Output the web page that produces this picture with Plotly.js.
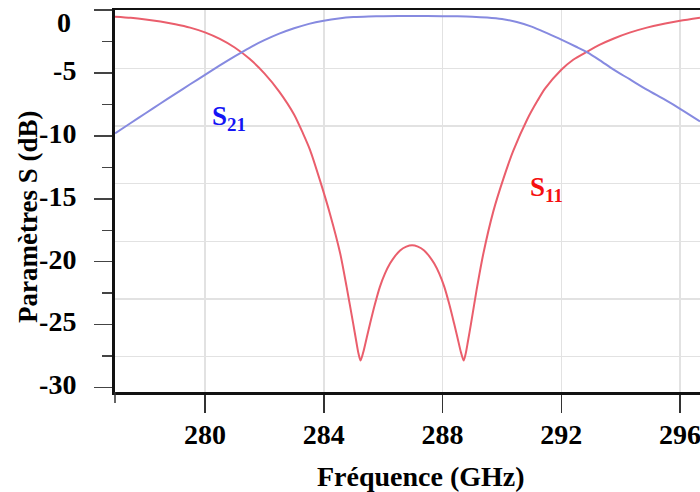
<!DOCTYPE html>
<html>
<head>
<meta charset="utf-8">
<script src="https://cdn.plot.ly/plotly-3.0.1.min.js"></script>
<style>html,body{margin:0;padding:0;background:#fff;}#chart{width:700px;height:492px;}</style>
</head>
<body>
<div id="chart"></div>
<script>
// S11 (red) – frequency in GHz, magnitude in dB
const freqS11 = [276.97, 277.5, 278.0, 278.5, 279.0, 279.5, 280.0, 280.5, 281.0, 281.5, 282.0, 282.5, 283.0, 283.3, 283.54, 283.87, 284.21, 284.55, 284.77, 284.99, 285.1, 285.17, 285.24, 285.33, 285.45, 285.56, 285.72, 285.89, 286.06, 286.23, 286.4, 286.57, 286.78, 286.975, 287.17, 287.38, 287.55, 287.72, 287.89, 288.06, 288.23, 288.39, 288.5, 288.62, 288.71, 288.78, 288.85, 288.96, 289.15, 289.37, 289.71, 290.05, 290.38, 290.85, 291.2, 291.45, 292.0, 292.4, 292.86, 293.3, 293.75, 294.3, 294.88, 295.5, 296.0, 296.67];
const s11 = [-0.53, -0.62, -0.75, -0.92, -1.13, -1.4, -1.78, -2.3, -2.98, -3.88, -5.03, -6.48, -8.3, -9.8, -11.13, -13.52, -16.2, -19.3, -22.0, -24.9, -26.4, -27.3, -27.85, -27.2, -26.0, -24.91, -23.4, -22.0, -20.95, -20.15, -19.55, -19.1, -18.8, -18.69, -18.8, -19.1, -19.55, -20.15, -20.95, -22.0, -23.4, -24.91, -26.0, -27.2, -27.85, -27.3, -26.4, -24.9, -22.2, -19.4, -16.0, -13.4, -11.2, -8.7, -7.2, -6.25, -4.75, -3.95, -3.32, -2.75, -2.28, -1.8, -1.4, -1.07, -0.86, -0.62];

// S21 (blue)
const freqS21 = [276.97, 277.5, 278.0, 278.5, 279.0, 279.5, 280.0, 280.5, 281.0, 281.5, 282.0, 282.5, 283.0, 283.5, 284.0, 284.5, 285.0, 285.5, 286.0, 287.0, 288.0, 288.5, 289.0, 289.5, 290.0, 290.5, 291.0, 291.5, 292.0, 292.5, 292.86, 293.3, 293.75, 294.3, 294.88, 295.5, 296.0, 296.67];
const s21 = [-9.8, -8.98, -8.2, -7.43, -6.66, -5.9, -5.15, -4.4, -3.68, -3.0, -2.4, -1.88, -1.45, -1.1, -0.85, -0.67, -0.56, -0.51, -0.49, -0.48, -0.49, -0.5, -0.53, -0.6, -0.72, -0.95, -1.32, -1.82, -2.35, -2.92, -3.35, -4.0, -4.72, -5.5, -6.33, -7.15, -7.85, -8.85];

// Axis ticks
const xTickVals = [280, 284, 288, 292, 296];
const xTickText = ['280', '284', '288', '292', '296'];
const yTickVals = [-30, -25, -20, -15, -10, -5, 0];
const yTickText = ['-30', '-25', '-20', '-15', '-10', '-5', '0'];

// Text labels
const xTitle = 'Fréquence (GHz)';
const yTitle = 'Paramètres S (dB)';
const labelS21 = 'S<sub>21</sub>';
const labelS11 = 'S<sub>11</sub>';

const FONT = 'Liberation Serif, Times New Roman, serif';
const GRID = '#e2e2e2';
const TICKFONT = {family: FONT, size: 28, color: '#000', weight: 700};

// the top "0" label is drawn slightly lowered in the reference, so it is placed as its own text
const yTickTextShown = yTickText.map((t, i) => yTickVals[i] === 0 ? '' : t);
const zeroLabel = yTickText[yTickVals.indexOf(0)];

const traces = [
  {x: [], y: [], xaxis: 'x', yaxis: 'y', showlegend: false, hoverinfo: 'skip', mode: 'lines'},
  {x: freqS11, y: s11, xaxis: 'x', yaxis: 'y2', mode: 'lines', name: 'S11',
   line: {color: 'rgb(234,94,108)', width: 2, shape: 'spline', smoothing: 0.7}},
  {x: freqS21, y: s21, xaxis: 'x', yaxis: 'y2', mode: 'lines', name: 'S21',
   line: {color: 'rgb(134,138,224)', width: 2, shape: 'spline', smoothing: 0.7}}
];

const layout = {
  width: 700, height: 492,
  margin: {l: 115, r: 0, t: 10, b: 100, pad: 0},
  paper_bgcolor: '#fff', plot_bgcolor: '#fff',
  showlegend: false,
  font: {family: FONT, size: 27, color: '#000', weight: 700},
  xaxis: {
    range: [276.97, 296.67],
    tickvals: xTickVals, ticktext: xTickText,
    ticks: 'outside', ticklen: 18, tickwidth: 1.5, tickcolor: '#333',
    ticklabelstandoff: -2, ticklabeloverflow: 'allow',
    tickfont: TICKFONT,
    showgrid: true, gridcolor: GRID, gridwidth: 1.5,
    showline: true, linecolor: '#111', linewidth: 2.5, mirror: true,
    zeroline: false, fixedrange: true
  },
  yaxis: {
    range: [-33.06, 0.054], tick0: 0, dtick: 5,
    showgrid: true, gridcolor: GRID, gridwidth: 1.5,
    showticklabels: false, ticks: '', showline: false, zeroline: false, fixedrange: true
  },
  yaxis2: {
    overlaying: 'y', side: 'left', anchor: 'x',
    range: [-30.35, 0],
    tickvals: yTickVals, ticktext: yTickTextShown,
    ticks: 'outside', ticklen: 18, tickwidth: 1.5, tickcolor: '#444',
    ticklabelstandoff: 12, ticklabelshift: -3, ticklabeloverflow: 'allow',
    tickfont: TICKFONT,
    minor: {tick0: 0, dtick: 2.5, ticks: 'outside', ticklen: 10, tickwidth: 1.5, tickcolor: '#444', showgrid: false},
    showgrid: false, zeroline: false,
    showline: true, linecolor: '#111', linewidth: 3, fixedrange: true
  },
  shapes: [
    {type: 'line', xref: 'paper', yref: 'paper', x0: 0, x1: 0, y0: 0, y1: -0.029,
     line: {color: '#333', width: 1.5}}
  ],
  annotations: [
    {text: zeroLabel, xref: 'paper', yref: 'paper', x: (73 - 115) / 585, y: (392 - 22) / 382,
     showarrow: false, xanchor: 'right', yanchor: 'middle', font: TICKFONT},
    {text: xTitle, xref: 'paper', yref: 'paper', x: (421 - 115) / 585, y: -(476 - 392) / 382,
     showarrow: false, xanchor: 'center', yanchor: 'middle',
     font: {family: FONT, size: 28, color: '#000', weight: 700}},
    {text: yTitle, xref: 'paper', yref: 'paper', x: (28 - 115) / 585, y: (392 - 217) / 382,
     showarrow: false, xanchor: 'center', yanchor: 'middle', textangle: -90,
     font: {family: FONT, size: 27, color: '#000', weight: 700}},
    {text: labelS21, xref: 'x', yref: 'y2', x: 280.81, y: -8.6, showarrow: false,
     xanchor: 'center', yanchor: 'middle',
     font: {family: FONT, size: 27, color: '#1414f5', weight: 700}},
    {text: labelS11, xref: 'x', yref: 'y2', x: 291.5, y: -14.2, showarrow: false,
     xanchor: 'center', yanchor: 'middle',
     font: {family: FONT, size: 27, color: '#f50f0f', weight: 700}}
  ]
};

Plotly.newPlot('chart', traces, layout, {displayModeBar: false, staticPlot: true});
</script>
</body>
</html>
